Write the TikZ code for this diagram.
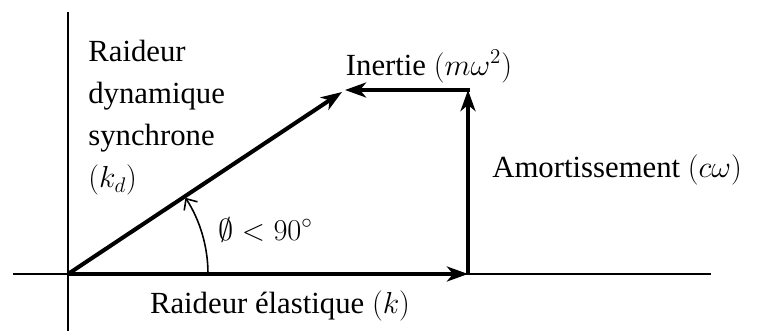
\documentclass[tikz,border=0pt]{standalone}
\usepackage{fontspec}
\setmainfont{Liberation Serif}
\usetikzlibrary{arrows.meta}

\begin{document}
\begin{tikzpicture}[
	x=0.02cm, y=-0.02cm,
	font=\rmfamily\fontsize{17.5}{23.9}\selectfont,
	axis/.style={ line width=1pt },
	vect/.style={ line width=2.3pt, -{Stealth[length=12pt,width=8.5pt,inset=3.5pt]} },
	angarrow/.style={ line width=0.9pt, -{Straight Barb[length=5pt,width=9pt]} },
	lbl/.style={ inner sep=0pt }
]
\useasboundingbox (0,0) rectangle (760,331);

% axes
\coordinate (xl) at (13,274);
\coordinate (xr) at (711,274);
\coordinate (yt) at (68,12);
\coordinate (yb) at (68,331);
\draw[axis] (xl) -- (xr);
\draw[axis] (yt) -- (yb);

% vectors
\coordinate (O) at (68,274);
\coordinate (C) at (468,274);
\coordinate (D) at (468,90);
\coordinate (E) at (345,90);
\coordinate (F) at (342,92);
\draw[vect] (O) -- (C);
\draw[vect] (C) -- (D);
\draw[vect, shorten <=-1.15pt] (D) -- (E);
\draw[vect] (O) -- (F);

% angle
\coordinate (a0) at (208,274);
\draw[angarrow] (a0) arc (0:-33:140);

% labels
\node at (88,40) (kd) [lbl, anchor=north west, align=left] {Raideur\\dynamique\\synchrone\\$(k_d)$};
\node at (429,75) (inert) [lbl, anchor=base] {Inertie $(m\omega^2)$};
\node at (492,177) (amort) [lbl, anchor=base west] {Amortissement $(c\omega)$};
\node at (218,240) (phi) [lbl, anchor=base west] {$\emptyset < 90^{\circ}$};
\node at (280,313) (elast) [lbl, anchor=base] {Raideur élastique $(k)$};

\end{tikzpicture}
\end{document}
